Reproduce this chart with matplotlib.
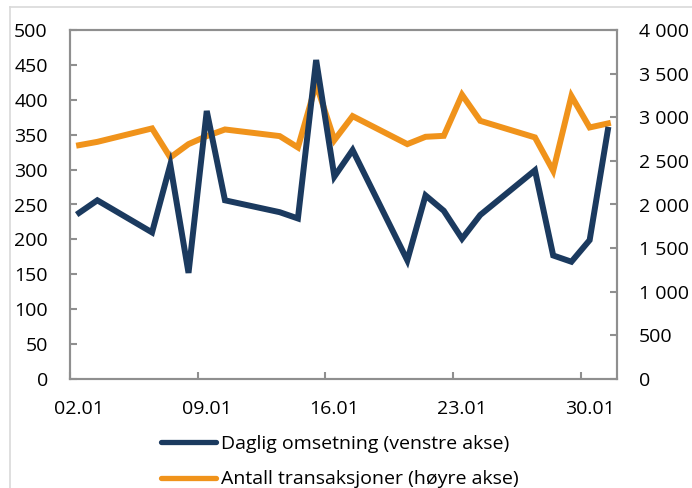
import matplotlib
matplotlib.use("Agg")
from matplotlib import pyplot as plt
from matplotlib.lines import Line2D
from matplotlib.ticker import FuncFormatter

plt.rcParams['font.family'] = ['Open Sans', 'DejaVu Sans']

# Virkedager i januar (dag i måneden)
days = [2, 3, 6, 7, 8, 9, 10, 13, 14, 15, 16, 17, 20, 21, 22, 23, 24, 27, 28, 29, 30, 31]

# Daglig omsetning (venstre akse)
turnover = [238, 256, 210, 307, 152, 384, 256, 239, 230, 457, 290, 328,
            170, 263, 241, 201, 235, 299, 177, 168, 199, 357]

# Antall transaksjoner (høyre akse)
transactions = [2680, 2718, 2872, 2539, 2692, 2784, 2860, 2784, 2654, 3380, 2738, 3013,
                2692, 2776, 2787, 3258, 2959, 2769, 2386, 3243, 2883, 2929]

tick_days = [2, 9, 16, 23, 30]
tick_labels = ['02.01', '09.01', '16.01', '23.01', '30.01']

navy = '#1b3a5f'
orange = '#f0931b'
grey = '#8f8f8f'
fs = 14


def space_thousands(v, pos):
    return f'{int(v):,}'.replace(',', ' ')


fig = plt.figure(figsize=(6.92, 4.88), dpi=100)
ax = fig.add_axes([70 / 692, 1 - 379 / 488, 547 / 692, 349 / 488])
ax2 = ax.twinx()

ax.plot(days, turnover, color=navy, lw=4.3, solid_joinstyle='miter', zorder=3)
ax2.plot(days, transactions, color=orange, lw=4.3, solid_joinstyle='miter', zorder=2)
ax.set_zorder(ax2.get_zorder() + 1)
ax.patch.set_visible(False)

ax.set_xlim(1.5, 31.5)
ax.set_ylim(0, 500)
ax2.set_ylim(0, 4000)
ax.set_yticks(range(0, 501, 50))
ax2.set_yticks(range(0, 4001, 500))
ax2.yaxis.set_major_formatter(FuncFormatter(space_thousands))

# tick marks between days, labels under the day itself
ax.set_xticks([d - 0.5 for d in tick_days])
ax.set_xticklabels([])
ax.set_xticks(tick_days, minor=True)
ax.set_xticklabels(tick_labels, minor=True)
ax.tick_params(axis='x', which='minor', length=0, pad=15, labelsize=fs)
ax.tick_params(axis='x', which='major', direction='in', length=5, width=1.5, color=grey)
ax.tick_params(axis='y', direction='in', length=5, width=1.5, color=grey, pad=16, labelsize=fs)
ax2.tick_params(axis='y', direction='in', length=5, width=1.5, color=grey, pad=16, labelsize=fs)

for a in (ax, ax2):
    for s in a.spines.values():
        s.set_color(grey)
        s.set_linewidth(1.5)

handles = [Line2D([], [], color=navy, lw=3.8, solid_capstyle='round'),
           Line2D([], [], color=orange, lw=3.8, solid_capstyle='round')]
fig.legend(handles, ['Daglig omsetning (venstre akse)', 'Antall transaksjoner (høyre akse)'],
           loc='center left', bbox_to_anchor=(161 / 692, 1 - 461.5 / 488),
           frameon=False, fontsize=fs, handlelength=2.85, handletextpad=0.25,
           labelspacing=0.92, borderpad=0, borderaxespad=0)

# light frame around the chart
fig.add_artist(Line2D([10 / 692, 10 / 692], [0, 1 - 7 / 488], color='#d9d9d9', lw=1.2))
fig.add_artist(Line2D([10 / 692, 1], [1 - 7 / 488, 1 - 7 / 488], color='#d9d9d9', lw=1.2))

fig.savefig('out.png', dpi=100)
